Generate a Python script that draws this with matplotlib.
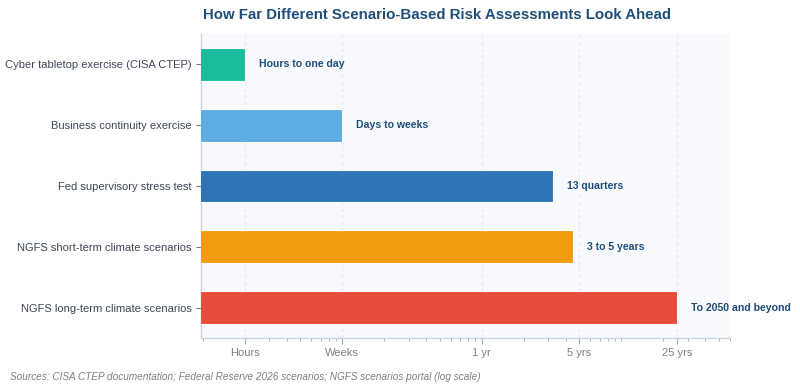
import numpy as np
import matplotlib
matplotlib.use("Agg")
import matplotlib.pyplot as plt
from matplotlib.ticker import FixedLocator, LogLocator, NullFormatter

plt.rcParams['font.family'] = ['Liberation Sans', 'DejaVu Sans']

# horizon of each exercise, in years (log axis)
categories = [
    "Cyber tabletop exercise (CISA CTEP)",
    "Business continuity exercise",
    "Fed supervisory stress test",
    "NGFS short-term climate scenarios",
    "NGFS long-term climate scenarios",
]
horizon_years = [0.02, 0.1, 3.25, 4.5, 25]
bar_labels = ["Hours to one day", "Days to weeks", "13 quarters",
              "3 to 5 years", "To 2050 and beyond"]
colors = ["#1abc9c", "#5dade2", "#2e75b6", "#f39c12", "#e74c3c"]

tick_vals = [0.02, 0.1, 1, 5, 25]
tick_text = ["Hours", "Weeks", "1 yr", "5 yrs", "25 yrs"]

title_color = "#1f4e79"

fig = plt.figure(figsize=(8, 3.9), dpi=100)
ax = fig.add_axes([0.251, 0.1333, 0.6615, 0.7795])
ax.set_facecolor("#f8fafd")

ax.set_xscale("log")
x_lo, x_hi = 0.0097, 60
y = np.arange(len(categories))
ax.barh(y, np.array(horizon_years) - 1e-6, left=1e-6, height=0.54,
        color=colors, edgecolor="white", linewidth=0.8, zorder=3)

for yi, val, txt in zip(y, horizon_years, bar_labels):
    ax.annotate(txt, xy=(val, yi), xytext=(10, 0), textcoords="offset points",
                ha="left", va="center", fontsize=7.6, fontweight="bold",
                color=title_color, annotation_clip=False, zorder=4)

ax.set_xlim(x_lo, x_hi)
ax.set_ylim(len(categories) - 0.5, -0.5)

ax.xaxis.set_major_locator(FixedLocator(tick_vals))
ax.set_xticklabels(tick_text)
ax.xaxis.set_minor_locator(LogLocator(base=10, subs=np.arange(1, 10)))
ax.xaxis.set_minor_formatter(NullFormatter())
ax.set_yticks(y)
ax.set_yticklabels(categories)

ax.tick_params(axis="x", which="major", length=4, color="#9aa5b1",
               labelsize=8, labelcolor="#7f7f7f", pad=3)
ax.tick_params(axis="x", which="minor", length=2.5, color="#9aa5b1")
ax.tick_params(axis="y", length=3.5, color="#6b7785",
               labelsize=8, labelcolor="#3d4756", pad=3)

ax.grid(axis="x", which="major", color="#e3e8ef", linestyle=(0, (3, 3)),
        linewidth=0.8, zorder=0)
ax.set_axisbelow(True)

for side in ["top", "right"]:
    ax.spines[side].set_visible(False)
for side in ["left", "bottom"]:
    ax.spines[side].set_color("#c8d4e3")
    ax.spines[side].set_linewidth(1)

fig.text(0.546, 1 - 15 / 390, "How Far Different Scenario-Based Risk Assessments Look Ahead",
         ha="center", va="center", fontsize=10.8, fontweight="bold", color=title_color)
fig.text(10 / 800, 1 - 377 / 390,
         "Sources: CISA CTEP documentation; Federal Reserve 2026 scenarios; NGFS scenarios portal (log scale)",
         ha="left", va="center", fontsize=7.2, style="italic", color="#7f7f7f")

fig.savefig("out.png", dpi=100)
